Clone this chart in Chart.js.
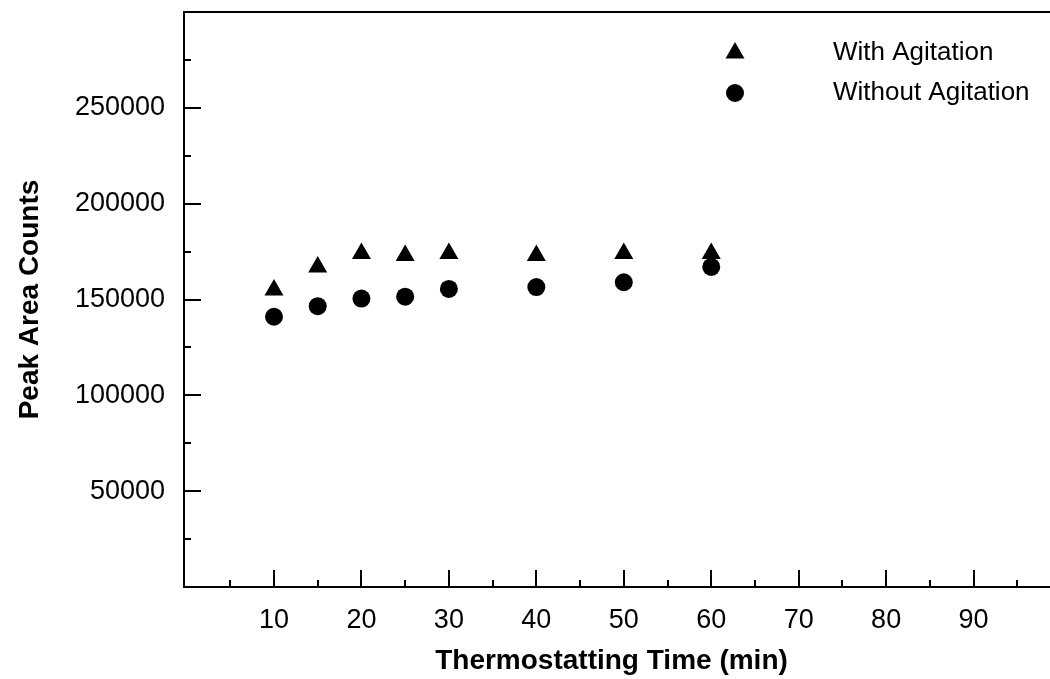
<!DOCTYPE html>
<html><head><meta charset="utf-8">
<script src="https://cdn.jsdelivr.net/npm/chart.js@4/dist/chart.umd.min.js"></script>
<style>html,body{margin:0;padding:0;background:#fff;overflow:hidden}canvas{display:block}</style>
</head><body><canvas id="c" width="1050" height="679"></canvas>
<script>
const times = [10, 15, 20, 25, 30, 40, 50, 60];
const withAgitation = [155000, 167000, 174000, 173000, 174000, 173000, 174000, 174000];
const withoutAgitation = [141000, 146500, 150500, 151500, 155500, 156500, 159000, 167000];
const xTickValues = [5, 10, 15, 20, 25, 30, 35, 40, 45, 50, 55, 60, 65, 70, 75, 80, 85, 90, 95];
const xLabelValues = [10, 20, 30, 40, 50, 60, 70, 80, 90];
const yTickValues = [25000, 50000, 75000, 100000, 125000, 150000, 175000, 200000, 225000, 250000, 275000];
const yLabelValues = [50000, 100000, 150000, 200000, 250000];
const seriesLabels = ['With Agitation', 'Without Agitation'];
const xTitle = 'Thermostatting Time (min)';
const yTitle = 'Peak Area Counts';

const FONT = '"Liberation Sans", Arial, sans-serif';

const axesPlugin = {
  id: 'axesPlugin',
  afterDatasetsDraw(chart) {
    const { ctx, chartArea: a, scales: { x, y } } = chart;
    const right = chart.width;
    ctx.save();
    ctx.strokeStyle = '#000';
    ctx.lineWidth = 2;
    ctx.beginPath();
    ctx.moveTo(right, a.top); ctx.lineTo(a.left, a.top);
    ctx.lineTo(a.left, a.bottom); ctx.lineTo(right, a.bottom);
    xTickValues.forEach(v => {
      const px = Math.round(x.getPixelForValue(v));
      const len = xLabelValues.includes(v) ? 17 : 7;
      ctx.moveTo(px, a.bottom); ctx.lineTo(px, a.bottom - len);
    });
    yTickValues.forEach(v => {
      const py = Math.round(y.getPixelForValue(v));
      const len = yLabelValues.includes(v) ? 17 : 7;
      ctx.moveTo(a.left, py); ctx.lineTo(a.left + len, py);
    });
    ctx.stroke();
    ctx.restore();
  }
};

const legendPlugin = {
  id: 'legendPlugin',
  afterDatasetsDraw(chart) {
    const { ctx } = chart;
    const rows = [53, 93];
    ctx.save();
    chart.data.datasets.forEach((ds, i) => {
      Chart.helpers.drawPoint(ctx, {
        pointStyle: ds.pointStyle, radius: ds.pointRadius, borderWidth: 0, rotation: 0
      }, 735, rows[i]);
      ctx.fillStyle = '#000';
      ctx.font = '26px ' + FONT;
      ctx.textBaseline = 'middle';
      ctx.textAlign = 'left';
      ctx.fillText(ds.label, 833, rows[i]);
    });
    ctx.restore();
  }
};

new Chart(document.getElementById('c'), {
  type: 'scatter',
  data: {
    datasets: [
      {
        label: seriesLabels[0],
        data: times.map((t, i) => ({ x: t, y: withAgitation[i] })),
        pointStyle: 'triangle', pointRadius: 11,
        backgroundColor: '#000', borderColor: '#000', borderWidth: 0
      },
      {
        label: seriesLabels[1],
        data: times.map((t, i) => ({ x: t, y: withoutAgitation[i] })),
        pointStyle: 'circle', pointRadius: 9,
        backgroundColor: '#000', borderColor: '#000', borderWidth: 0
      }
    ]
  },
  options: {
    responsive: false, animation: false,
    layout: { padding: { top: 12, right: 0, left: 0, bottom: 0 } },
    plugins: { legend: { display: false }, tooltip: { enabled: false } },
    scales: {
      x: {
        type: 'linear', min: -0.29, max: 97.48,
        grid: { display: false, drawTicks: false },
        border: { display: false },
        afterBuildTicks: s => { s.ticks = xTickValues.map(v => ({ value: v })); },
        afterFit: s => { s.height = 92; s.paddingLeft = 0; s.paddingRight = 0; },
        ticks: {
          autoSkip: false, maxRotation: 0, padding: 17, color: '#000',
          font: { family: FONT, size: 27 },
          callback: v => xLabelValues.includes(v) ? String(v) : ''
        },
        title: { display: true, text: xTitle, color: '#000', padding: { top: 4, bottom: 1 },
          font: { family: FONT, size: 28, weight: 'bold' } }
      },
      y: {
        type: 'linear', min: 0, max: 300000,
        grid: { display: false, drawTicks: false },
        border: { display: false },
        afterBuildTicks: s => { s.ticks = yTickValues.map(v => ({ value: v })); },
        afterFit: s => { s.width = 184; s.paddingTop = 0; s.paddingBottom = 0; },
        ticks: {
          autoSkip: false, padding: 19, color: '#000',
          font: { family: FONT, size: 27 },
          callback: v => yLabelValues.includes(v) ? String(v) : ''
        },
        title: { display: true, text: yTitle, color: '#000', padding: { top: 13, bottom: 0 },
          font: { family: FONT, size: 28, weight: 'bold' } }
      }
    }
  },
  plugins: [axesPlugin, legendPlugin]
});
</script></body></html>
